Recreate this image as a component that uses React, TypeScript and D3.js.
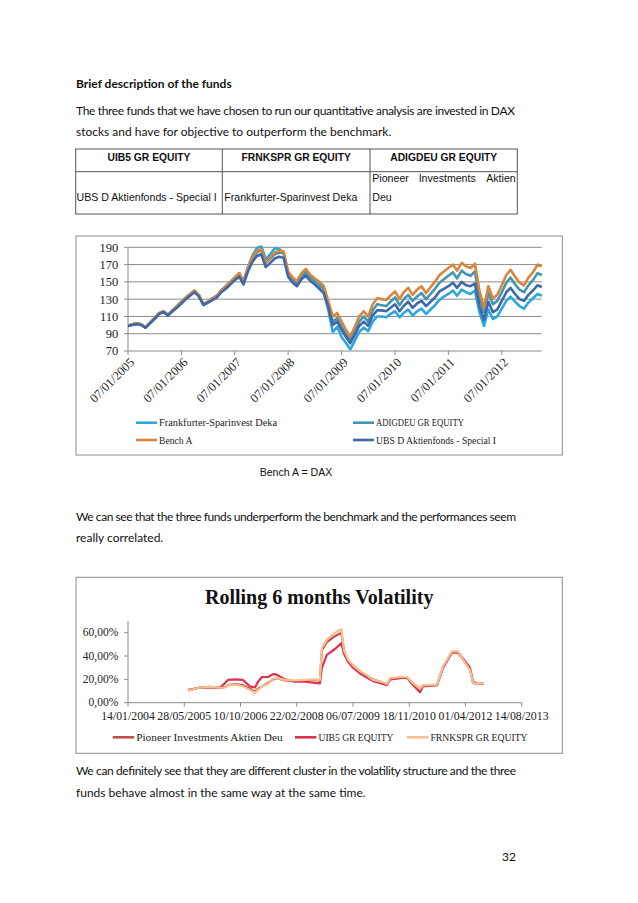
import * as d3 from 'd3';

// ---- performance chart (monthly, start 07/01/2005) ----
const perfStart = new Date(2005, 0, 7);
const perfTicks = ['07/01/2005', '07/01/2006', '07/01/2007', '07/01/2008', '07/01/2009', '07/01/2010', '07/01/2011', '07/01/2012'];
const perfYTicks = [70, 90, 110, 130, 150, 170, 190];

const frankfurter = [
  99, 101, 102, 101, 97, 103, 108, 113, 116, 112,
  117, 122, 127, 132, 136, 140, 134, 124, 127, 131,
  134, 140, 145, 150, 155, 160, 150, 167, 180, 189,
  192, 176, 182, 189, 188, 184, 158, 151, 147, 155,
  160, 152, 148, 143, 137, 118, 92, 98, 86, 79,
  72, 82, 92, 97, 93, 104, 110, 110, 109, 113,
  116, 109, 114, 118, 111, 116, 119, 113, 118, 123,
  129, 133, 136, 140, 134, 141, 138, 136, 140, 115,
  99, 118, 107, 110, 119, 128, 133, 127, 122, 119,
  126, 131, 136, 134,
];
const adigdeu = [
  99, 101, 102, 101, 97, 103, 107, 113, 115, 112,
  116, 121, 126, 131, 135, 139, 134, 124, 126, 130,
  133, 139, 144, 149, 154, 158, 149, 164, 176, 184,
  187, 172, 177, 182, 184, 183, 160, 152, 148, 157,
  162, 155, 151, 147, 142, 124, 104, 108, 98, 89,
  83, 93, 104, 110, 104, 117, 124, 123, 122, 127,
  132, 123, 130, 135, 128, 133, 137, 130, 136, 142,
  149, 153, 157, 161, 154, 163, 159, 157, 162, 131,
  115, 137, 124, 128, 138, 149, 155, 147, 141, 138,
  146, 152, 160, 158,
];
const benchA = [
  99, 101, 102, 101, 97, 103, 108, 114, 116, 112,
  117, 122, 127, 132, 136, 140, 135, 124, 127, 131,
  134, 140, 145, 150, 155, 160, 150, 166, 178, 186,
  188, 172, 178, 184, 186, 185, 162, 155, 151, 160,
  165, 158, 154, 150, 145, 128, 110, 114, 104, 94,
  87, 98, 110, 116, 110, 124, 131, 130, 129, 134,
  139, 130, 138, 143, 135, 141, 145, 137, 144, 150,
  158, 162, 166, 170, 163, 172, 168, 166, 171, 140,
  120, 145, 131, 135, 146, 158, 164, 156, 149, 146,
  155, 161, 170, 168,
];
const ubs = [
  99, 100, 101, 100, 97, 102, 107, 113, 115, 111,
  116, 120, 125, 130, 134, 138, 133, 123, 126, 129,
  132, 138, 142, 147, 152, 156, 147, 162, 173, 180,
  182, 167, 172, 177, 179, 178, 156, 149, 145, 153,
  157, 151, 147, 142, 137, 121, 100, 104, 94, 86,
  79, 89, 99, 104, 99, 111, 117, 117, 116, 120,
  124, 116, 122, 127, 120, 125, 128, 122, 127, 132,
  139, 142, 145, 149, 143, 150, 146, 145, 148, 122,
  106, 127, 115, 118, 128, 138, 143, 136, 130, 128,
  135, 140, 146, 144,
];

const perfSeries = [
  { name: 'Frankfurter-Sparinvest Deka', values: frankfurter, color: '#29a8df', labelW: 118 },
  { name: 'ADIGDEU GR EQUITY', values: adigdeu, color: '#4097b1', labelW: 88 },
  { name: 'Bench A', values: benchA, color: '#d9853b', labelW: 33.5 },
  { name: 'UBS D Aktienfonds - Special I', values: ubs, color: '#3f68a9', labelW: 120 },
];

// ---- rolling volatility chart ----
const volTickLabels = ['14/01/2004', '28/05/2005', '10/10/2006', '22/02/2008', '06/07/2009', '18/11/2010', '01/04/2012', '14/08/2013'];
const volYTicks = [0, 0.2, 0.4, 0.6];
const volDates = [
  '2005-07-01', '2005-09-01', '2005-10-15', '2006-01-12', '2006-04-11', '2006-05-16', '2006-06-21', '2006-08-22',
  '2006-11-01', '2007-01-02', '2007-02-16', '2007-03-15', '2007-04-19', '2007-06-11', '2007-07-26', '2007-08-30',
  '2007-11-10', '2008-02-06', '2008-05-05', '2008-08-02', '2008-09-15', '2008-10-03', '2008-11-16', '2009-01-27',
  '2009-03-25', '2009-04-17', '2009-05-23', '2009-07-06', '2009-09-06', '2009-10-30', '2009-12-31', '2010-03-30',
  '2010-05-04', '2010-05-31', '2010-08-28', '2010-10-29', '2010-12-13', '2011-02-22', '2011-03-21', '2011-07-23',
  '2011-09-14', '2011-12-03', '2012-01-26', '2012-03-10', '2012-05-11', '2012-06-07', '2012-07-21', '2012-09-12',
];
const pioneerVol = [
  10.5, 12, 13, 13.5, 13, 13, 15, 16, 15, 12, 9.5, 12, 14, 17, 20, 21,
  19, 18.5, 19, 19.5, 19, 45, 52, 57, 60, 45, 36, 32, 27, 23, 20, 17,
  16, 20, 21.5, 21.5, 17, 12, 15, 15, 30, 43, 43, 37, 29, 18, 16, 17,
];
const uib5Vol = [
  11, 12, 13, 13, 13, 16, 19.5, 20, 19.5, 14, 13, 18, 22, 22, 24.5, 24,
  20, 18, 18, 17, 16.5, 30, 41, 46, 51, 42, 35, 30, 25, 22, 18.5, 16,
  15, 20, 21, 21.5, 16, 9, 14, 15, 30, 43, 43, 38, 30, 17, 16, 16.5,
];
const frnksprVol = [
  10.5, 12, 13, 13.5, 13, 12.5, 15, 15.5, 14, 11, 8.5, 11, 14, 16, 20.5, 21,
  19.5, 19, 19.5, 20, 19.5, 47, 54, 60, 63, 45, 37, 32, 27, 24, 19.5, 17.5,
  16, 21, 22, 22, 17.5, 12, 15, 15.5, 31, 44, 44, 37, 28, 17, 16, 17,
];

const volSeries = [
  { name: 'Pioneer Investments Aktien Deu', values: pioneerVol, color: '#c0504d', labelW: 146.5 },
  { name: 'UIB5 GR EQUITY', values: uib5Vol, color: '#dc3450', labelW: 75 },
  { name: 'FRNKSPR GR EQUITY', values: frnksprVol, color: '#f8bf8f', labelW: 97 },
];

const body = 'Lato, sans-serif';
const serif = '"Liberation Serif", serif';
const arial = '"Liberation Sans", Arial, sans-serif';

const parseDmy = d3.timeParse('%d/%m/%Y');
const parseIso = d3.timeParse('%Y-%m-%d');

export default function App() {
  // chart 1 scales
  const x1 = d3.scaleTime().domain([perfStart, new Date(2012, 0, 7)]).range([128, 501.8]);
  const y1 = d3.scaleLinear().domain([70, 190]).range([351, 247.3]);
  const perfDates = benchA.map((_, i) => d3.timeMonth.offset(perfStart, i));
  const line1 = d3
    .line<number>()
    .x((_, i) => x1(perfDates[i]))
    .y((d) => y1(d));

  // chart 2 scales
  const x2 = d3
    .scaleTime()
    .domain([parseDmy(volTickLabels[0])!, parseDmy(volTickLabels[volTickLabels.length - 1])!])
    .range([128, 521.7]);
  const y2 = d3.scaleLinear().domain([0, 0.7]).range([702.7, 621]);
  const line2 = d3
    .line<number>()
    .x((_, i) => x2(parseIso(volDates[i])!))
    .y((d) => y2(d / 100));

  const grid = '#8a8a8a';

  return (
    <svg width={638} height={903} style={{ position: 'absolute', left: 0, top: 0, background: '#fff' }}>
      <rect width={638} height={903} fill="#fff" />

      {/* intro text */}
      <text x={76} y={88} fontFamily={body} fontSize={12} fontWeight="bold" fill="#111">
        Brief description of the funds
      </text>
      <text x={76} y={114.5} fontFamily={body} fontSize={12} fill="#111" textLength={439} lengthAdjust="spacing">
        The three funds that we have chosen to run our quantitative analysis are invested in DAX
      </text>
      <text x={76} y={136} fontFamily={body} fontSize={12} fill="#111">
        stocks and have for objective to outperform the benchmark.
      </text>

      {/* table */}
      <g stroke="#555" strokeWidth={1} fill="none">
        <rect x={75.7} y={149} width={441.6} height={65} />
        <line x1={75.7} x2={517.3} y1={171.7} y2={171.7} />
        <line x1={222.3} x2={222.3} y1={149} y2={214} />
        <line x1={370} x2={370} y1={149} y2={214} />
      </g>
      <g fontFamily={arial} fontSize={10.3} fontWeight="bold" fill="#111" textAnchor="middle">
        <text x={149} y={160.7}>UIB5 GR EQUITY</text>
        <text x={296.2} y={160.7}>FRNKSPR GR EQUITY</text>
        <text x={443.7} y={160.7}>ADIGDEU GR EQUITY</text>
      </g>
      <g fontFamily={arial} fontSize={10.6} fill="#111">
        <text x={76.5} y={201.3}>UBS D Aktienfonds - Special I</text>
        <text x={224.3} y={201.3}>Frankfurter-Sparinvest Deka</text>
        <text x={372.3} y={182.3}>Pioneer</text>
        <text x={447.2} y={182.3} textAnchor="middle">Investments</text>
        <text x={515.7} y={182.3} textAnchor="end">Aktien</text>
        <text x={372.3} y={201.3}>Deu</text>
      </g>

      {/* chart 1 */}
      <rect x={76} y={236} width={486.3} height={219} fill="none" stroke={grid} strokeWidth={1} />
      <defs>
        <clipPath id="plot1">
          <rect x={128} y={245.5} width={416} height={107} />
        </clipPath>
      </defs>
      {perfYTicks.map((t) => (
        <g key={t}>
          <line x1={124} x2={541.7} y1={y1(t)} y2={y1(t)} stroke={grid} strokeWidth={1} />
          <text x={118.3} y={y1(t)} dy="0.35em" textAnchor="end" fontFamily={serif} fontSize={12.5} fill="#222">
            {t}
          </text>
        </g>
      ))}
      <line x1={128} x2={128} y1={y1(190)} y2={y1(70)} stroke={grid} strokeWidth={1} />
      {perfTicks.map((t) => {
        const xx = x1(parseDmy(t)!);
        return (
          <g key={t}>
            <line x1={xx} x2={xx} y1={351} y2={355} stroke={grid} strokeWidth={1} />
            <text
              transform={`translate(${xx + 4},${360}) rotate(-45)`}
              textAnchor="end"
              dy="0.35em"
              fontFamily={serif}
              fontSize={12.5}
              fill="#222"
            >
              {t}
            </text>
          </g>
        );
      })}
      <g clipPath="url(#plot1)">
        {perfSeries.map((s) => (
          <path key={s.name} d={line1(s.values)!} fill="none" stroke={s.color} strokeWidth={2.6} strokeLinejoin="round" />
        ))}
      </g>
      {perfSeries.map((s, i) => {
        const lx = i % 2 === 0 ? 136 : 353;
        const ly = i < 2 ? 422.7 : 440;
        return (
          <g key={s.name}>
            <line x1={lx} x2={lx + 21} y1={ly} y2={ly} stroke={s.color} strokeWidth={2.6} />
            <text
              x={lx + 23}
              y={ly}
              dy="0.35em"
              fontFamily={serif}
              fontSize={10.3}
              fill="#222"
              textLength={s.labelW}
              lengthAdjust="spacingAndGlyphs"
            >
              {s.name}
            </text>
          </g>
        );
      })}

      <text x={296} y={475.7} textAnchor="middle" fontFamily={arial} fontSize={10.6} fill="#111">
        Bench A = DAX
      </text>

      <text x={76} y={521} fontFamily={body} fontSize={12} fill="#111" textLength={440} lengthAdjust="spacing">
        We can see that the three funds underperform the benchmark and the performances seem
      </text>
      <text x={76} y={542} fontFamily={body} fontSize={12} fill="#111">
        really correlated.
      </text>

      {/* chart 2 */}
      <rect x={76} y={577.3} width={486.3} height={176} fill="none" stroke={grid} strokeWidth={1} />
      <text x={319.2} y={604.3} textAnchor="middle" fontFamily={serif} fontSize={20} fontWeight="bold" fill="#111">
        Rolling 6 months Volatility
      </text>
      <line x1={128} x2={128} y1={621} y2={702.7} stroke={grid} strokeWidth={1} />
      <line x1={128} x2={521.7} y1={702.7} y2={702.7} stroke={grid} strokeWidth={1} />
      {volYTicks.map((t) => (
        <g key={t}>
          <line x1={124} x2={128} y1={y2(t)} y2={y2(t)} stroke={grid} strokeWidth={1} />
          <text x={118.3} y={y2(t)} dy="0.32em" textAnchor="end" fontFamily={serif} fontSize={11.5} fill="#222">
            {(t * 100).toFixed(2).replace('.', ',') + '%'}
          </text>
        </g>
      ))}
      {volTickLabels.map((t) => {
        const xx = x2(parseDmy(t)!);
        return (
          <g key={t}>
            <line x1={xx} x2={xx} y1={702.7} y2={706.7} stroke={grid} strokeWidth={1} />
            <text x={xx} y={719.5} textAnchor="middle" fontFamily={serif} fontSize={11.8} fill="#222">
              {t}
            </text>
          </g>
        );
      })}
      {volSeries.map((s) => (
        <path key={s.name} d={line2(s.values)!} fill="none" stroke={s.color} strokeWidth={2.2} strokeLinejoin="round" />
      ))}
      {volSeries.map((s, i) => {
        const lx = [112.7, 295, 407][i];
        return (
          <g key={s.name}>
            <line x1={lx} x2={lx + 21.5} y1={737.3} y2={737.3} stroke={s.color} strokeWidth={2.6} />
            <text
              x={lx + 23.5}
              y={737.3}
              dy="0.35em"
              fontFamily={serif}
              fontSize={11}
              fill="#222"
              textLength={s.labelW}
              lengthAdjust="spacingAndGlyphs"
            >
              {s.name}
            </text>
          </g>
        );
      })}

      <text x={76} y={775} fontFamily={body} fontSize={12} fill="#111" textLength={440} lengthAdjust="spacing">
        We can definitely see that they are different cluster in the volatility structure and the three
      </text>
      <text x={76} y={797.3} fontFamily={body} fontSize={12} fill="#111">
        funds behave almost in the same way at the same time.
      </text>

      <text x={516} y={861} textAnchor="end" fontFamily={body} fontSize={12} fill="#111">
        32
      </text>
    </svg>
  );
}
